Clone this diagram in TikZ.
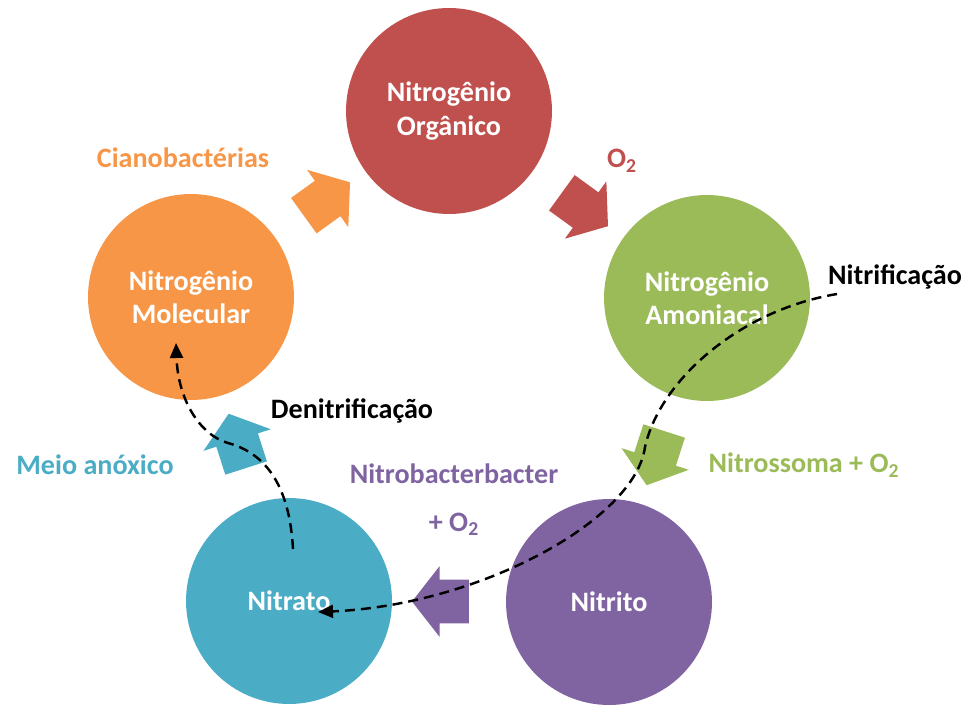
\documentclass[tikz,border=0pt]{standalone}
\usepackage{fontspec}
\setmainfont{Carlito}
\usepackage{tikz}
\usetikzlibrary{arrows.meta}
\usetikzlibrary{calc}
\usetikzlibrary{shapes.arrows}
\usepackage{xcolor}
\definecolor{redN}{HTML}{C0504D}
\definecolor{greenN}{HTML}{9BBB59}
\definecolor{purpleN}{HTML}{8064A2}
\definecolor{cyanN}{HTML}{4BACC6}
\definecolor{orangeN}{HTML}{F79646}

\begin{document}
\begin{tikzpicture}[x=0.02cm,y=0.02cm,
		blob/.style={circle,minimum size=4.12cm,inner sep=0pt,text=white,align=center,
			font=\bfseries\fontsize{16}{19}\selectfont},
		flow/.style={single arrow,minimum height=1.14cm,inner xsep=0pt,inner ysep=0.43cm,
			single arrow head extend=0.27cm,single arrow tip angle=104},
		tag/.style={font=\bfseries\fontsize{16}{19}\selectfont,align=center},
		dashline/.style={line width=1.4pt,dash pattern=on 0.2cm off 0.12cm,
			-{Triangle[length=0.3cm,width=0.26cm]}}]
		
		\useasboundingbox (0,0) rectangle (969,704);
		
		% the five stages of the cycle
		\node[blob,fill=redN] (organ) at (449,593) {Nitrogênio\\Orgânico};
		\node[blob,fill=greenN] (amon) at (707,406) {Nitrogênio\\Amoniacal};
		\node[blob,fill=purpleN] (nitrito) at (609,102) {Nitrito};
		\node[blob,fill=cyanN] (nitrato) at (289,103) {Nitrato};
		\node[blob,fill=orangeN] (molec) at (191,407) {Nitrogênio\\Molecular};
		
		% block arrows between the stages
		\node[flow,fill=orangeN,rotate=35.8] (fmolec) at ($(molec)!0.5!(organ)$) {};
		\node[flow,fill=redN,rotate=-35.9] (forgan) at ($(organ)!0.5!(amon)$) {};
		\node[flow,fill=greenN,rotate=-107.9] (famon) at ($(amon)!0.5!(nitrito)$) {};
		\node[flow,fill=purpleN,rotate=180] (fnitrito) at ($(nitrito)!0.5!(nitrato)$) {};
		\node[flow,fill=cyanN,rotate=107.8] (fnitrato) at ($(nitrato)!0.5!(molec)$) {};
		
		% labels of the steps
		\node[tag,text=orangeN] (cyano) at (183,546) {Cianobactérias};
		\node[tag,text=redN] (oxy) at (622,543) {O\textsubscript{2}};
		\node[tag,text=greenN] (nitross) at (804,239) {Nitrossoma + O\textsubscript{2}};
		\node[tag,text=purpleN] (nitrob) at (454,204) {Nitrobacterbacter\\[8pt]+ O\textsubscript{2}};
		\node[tag,text=cyanN] (anox) at (95,239) {Meio anóxico};
		\node[tag] (nitrif) at (895,427) {Nitrificação};
		\node[tag] (denit) at (352,293) {Denitrificação};
		
		% dashed paths
		\coordinate (nitrifstart) at (837,410);
		\coordinate (nitrifend) at (318,92);
		\coordinate (denitstart) at (293,155);
		\coordinate (denitend) at (176,361);
		
		\draw[dashline] (nitrifstart) .. controls (740,394) and (660,324) .. (645,257)
		.. controls (635,184) and (480,99) .. (nitrifend);
		\draw[dashline] (denitstart) .. controls (290,209) and (272,249) .. (228,261)
		.. controls (200,269) and (178,304) .. (denitend);
		
	\end{tikzpicture}
\end{document}
